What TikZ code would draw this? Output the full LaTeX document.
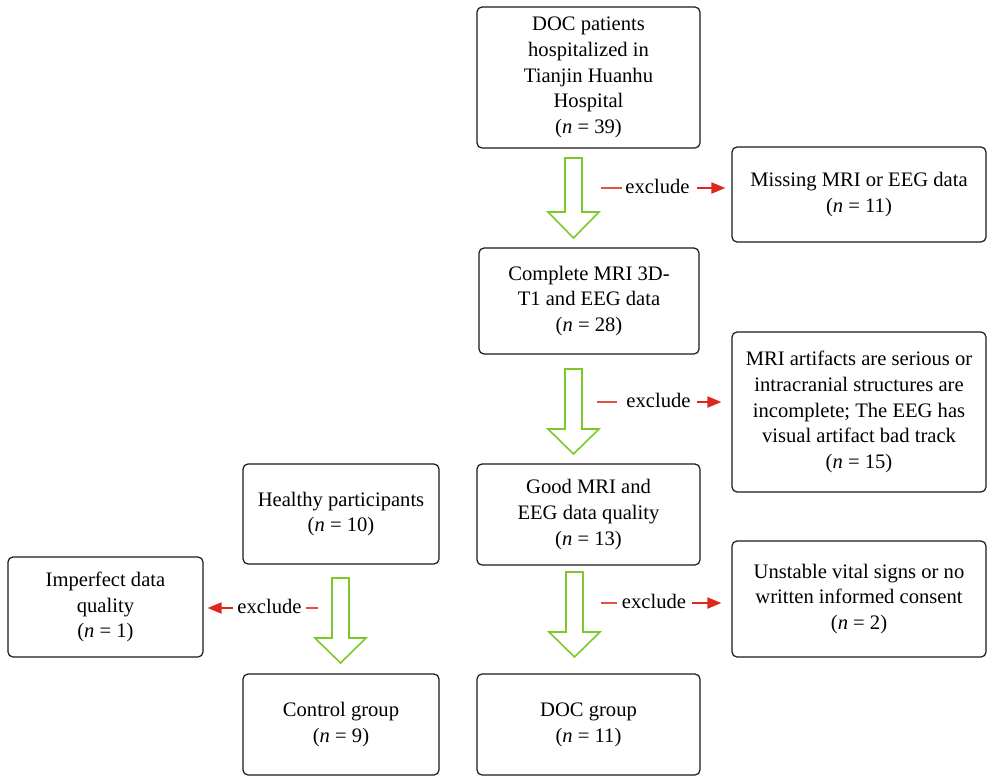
\documentclass[tikz,border=0pt]{standalone}
\usepackage{fontspec}
\setmainfont{Liberation Serif}
\usetikzlibrary{arrows.meta}
\definecolor{boxline}{RGB}{25,25,25}
\definecolor{arrgreen}{RGB}{125,200,40}
\definecolor{exred}{RGB}{222,40,28}
\definecolor{exlight}{RGB}{228,80,70}
\newcommand{\garrow}[4]{% center x, top, head start, tip
  \draw[arrgreen, line width=1.6pt, line join=miter]
    (#1-8.5,#2) -- (#1+8.5,#2) -- (#1+8.5,#3) -- (#1+25.5,#3) -- (#1,#4)
    -- (#1-25.5,#3) -- (#1-8.5,#3) -- cycle;}
\begin{document}
\begin{tikzpicture}[x=1pt,y=-1pt,
  font=\fontsize{20.6}{25.8}\selectfont,
  box/.style={draw=boxline, line width=1.2pt, rounded corners=5pt, align=center, inner sep=0pt},
  extext/.style={inner sep=0pt, font=\fontsize{20.6}{24}\selectfont},
  exline/.style={exlight, line width=2pt},
  exarrow/.style={exred, line width=2pt, -{Triangle[length=14pt,width=11pt]}}]
\useasboundingbox (0,0) rectangle (987,776);
% boxes
\node[box, minimum width=223, minimum height=141] (doc) at (588.5,77.5)
  {DOC patients\\hospitalized in\\Tianjin Huanhu\\Hospital\\(\textit{n} = 39)};
\node[box, minimum width=254, minimum height=95] (miss) at (859,194.5)
  {Missing MRI or EEG data\\(\textit{n} = 11)};
\node[box, minimum width=220, minimum height=106] (comp) at (589,301)
  {Complete MRI 3D-\\T1 and EEG data\\(\textit{n} = 28)};
\node[box, minimum width=254, minimum height=160] (art) at (859,412)
  {MRI artifacts are serious or\\intracranial structures are\\incomplete; The EEG has\\visual artifact bad track\\(\textit{n} = 15)};
\node[box, minimum width=223, minimum height=101] (good) at (588.5,514.5)
  {Good MRI and\\EEG data quality\\(\textit{n} = 13)};
\node[box, minimum width=196, minimum height=100] (healthy) at (341,514)
  {Healthy participants\\(\textit{n} = 10)};
\node[box, minimum width=195, minimum height=100] (imperf) at (105.5,607)
  {Imperfect data\\quality\\(\textit{n} = 1)};
\node[box, minimum width=254, minimum height=116] (unst) at (859,599)
  {Unstable vital signs or no\\written informed consent\\(\textit{n} = 2)};
\node[box, minimum width=196, minimum height=101] (ctrl) at (341,724.5)
  {Control group\\(\textit{n} = 9)};
\node[box, minimum width=223, minimum height=101] (docg) at (588.5,724.5)
  {DOC group\\(\textit{n} = 11)};
% green hollow arrows
\garrow{573.5}{158}{212}{238}
\garrow{573.5}{369}{429}{454}
\garrow{574.5}{572}{632}{657}
\garrow{340.5}{578}{638}{663}
% exclude connectors
\node[extext] (ex1) at (657.5,186.5) {exclude};
\coordinate (ex1s) at (601,188);
\draw[exline] (ex1s) -- ([xshift=-3pt]ex1.west |- ex1s);
\draw[exarrow, shorten >=6pt] ([xshift=7pt]ex1.east |- ex1s) -- (miss.west |- ex1s);

\node[extext] (ex2) at (658.5,400.5) {exclude};
\coordinate (ex2s) at (597,402);
\draw[exline] (ex2s) -- ([xshift=-9pt]ex2.west |- ex2s);
\draw[exarrow, shorten >=10pt] ([xshift=6pt]ex2.east |- ex2s) -- (art.west |- ex2s);

\node[extext] (ex3) at (654,601.5) {exclude};
\coordinate (ex3s) at (601,603);
\draw[exline] (ex3s) -- ([xshift=-5pt]ex3.west |- ex3s);
\draw[exarrow, shorten >=10pt] ([xshift=6pt]ex3.east |- ex3s) -- (unst.west |- ex3s);

\node[extext] (ex4) at (269.5,606.5) {exclude};
\coordinate (ex4s) at (318,608);
\draw[exline] (ex4s) -- ([xshift=4pt]ex4.east |- ex4s);
\draw[exarrow, shorten >=4pt] ([xshift=-4pt]ex4.west |- ex4s) -- (imperf.east |- ex4s);
\end{tikzpicture}
\end{document}
